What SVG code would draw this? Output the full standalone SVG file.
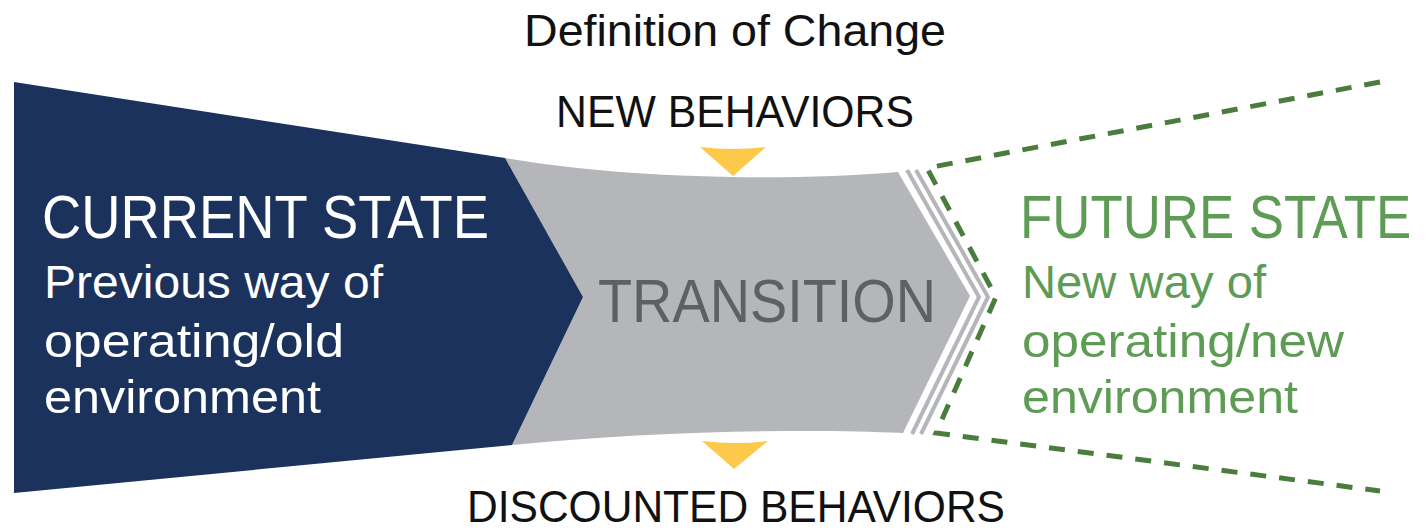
<svg xmlns="http://www.w3.org/2000/svg" width="1426" height="532" viewBox="0 0 1426 532">
<style>
text{font-family:"Liberation Sans",Arial,sans-serif}
.title{font-size:44px;fill:#111}
.head{font-size:62px}
.sub{font-size:46px}
.cur{fill:#ffffff}
.fut{fill:#5e9c55}
.stripe{fill:none;stroke:#b5b6b9;stroke-width:4}
.tri{fill:#fdc94a}
</style>
<rect width="1426" height="532" fill="#ffffff"/>
<g id="transition">
<path d="M505,158 C620,178 780,182 898,172 L970,296 L903,433 C800,428 640,432 512,445 L583,297 Z" fill="#b5b6b9"/>
<polyline class="stripe" points="907,170 979,297 912,434"/>
<polyline class="stripe" points="916,170 988,297 921,434"/>
<text x="598" y="322" class="head" fill="#5f6062" textLength="338" lengthAdjust="spacingAndGlyphs">TRANSITION</text>
</g>
<g id="current-state">
<path d="M14,82 L505,158 L583,297 L512,445 L14,493 Z" fill="#1a325c"/>
<text x="42" y="238" class="head cur" textLength="447" lengthAdjust="spacingAndGlyphs">CURRENT STATE</text>
<text x="44" y="298" class="sub cur" textLength="339" lengthAdjust="spacingAndGlyphs">Previous way of</text>
<text x="44" y="357" class="sub cur" textLength="300" lengthAdjust="spacingAndGlyphs">operating/old</text>
<text x="44" y="413" class="sub cur" textLength="277" lengthAdjust="spacingAndGlyphs">environment</text>
</g>
<g id="future-state">
<path d="M1380,82 L927,168 L996,297 L936,433 L1380,491" fill="none" stroke="#4a7c3d" stroke-width="5" stroke-dasharray="16 13"/>
<text transform="translate(1020,238) scale(0.852,1)" x="0" y="0" class="head fut">FUTURE STATE</text>
<text x="1022" y="298" class="sub fut" textLength="244" lengthAdjust="spacingAndGlyphs">New way of</text>
<text x="1022" y="357" class="sub fut" textLength="322" lengthAdjust="spacingAndGlyphs">operating/new</text>
<text x="1022" y="413" class="sub fut" textLength="276" lengthAdjust="spacingAndGlyphs">environment</text>
</g>
<g id="new-behaviors">
<text x="556" y="127" class="title" textLength="358" lengthAdjust="spacingAndGlyphs">NEW BEHAVIORS</text>
<path class="tri" d="M700,147 Q733,151 766,147 L733,176 Z"/>
</g>
<g id="discounted-behaviors">
<path class="tri" d="M702,441 Q735,445 768,441 L734,469 Z"/>
<text x="467" y="522" class="title" textLength="538" lengthAdjust="spacingAndGlyphs">DISCOUNTED BEHAVIORS</text>
</g>
<g id="title">
<text x="524" y="46" class="title" textLength="422" lengthAdjust="spacingAndGlyphs">Definition of Change</text>
</g>
<g id="connectors"></g>
</svg>
